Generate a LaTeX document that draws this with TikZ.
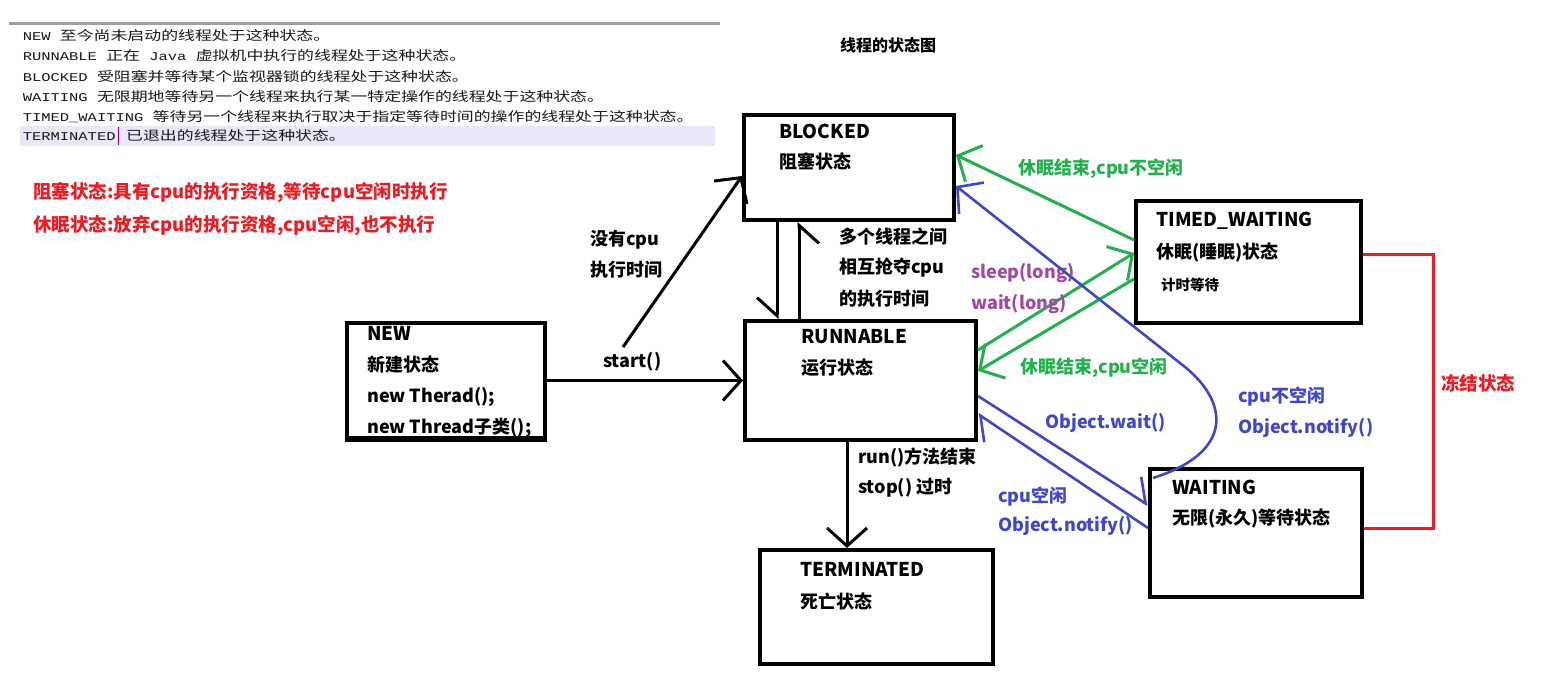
\documentclass[tikz,border=0pt]{standalone}
\usepackage{fontspec}
\setmainfont{Noto Sans CJK SC}
\newfontfamily\mono{Liberation Mono}
\newfontfamily\cjkl{Noto Sans CJK SC}
\usetikzlibrary{arrows.meta}
\definecolor{pgreen}{RGB}{34,177,76}
\definecolor{pblue}{RGB}{63,72,204}
\definecolor{pred}{RGB}{237,28,36}
\definecolor{ppurple}{RGB}{163,73,164}
\definecolor{hl}{RGB}{232,232,250}
\definecolor{txt}{RGB}{25,25,25}
\begin{document}
\begin{tikzpicture}[x=1pt,y=1pt,
  box/.style={draw=black, line width=4pt, anchor=north west, inner sep=0pt},
  lbl/.style={anchor=west, inner sep=0pt, font=\fontsize{18}{20}\selectfont\bfseries},
  redl/.style={anchor=west, inner sep=0pt, text=pred, font=\fontsize{18.5}{20}\selectfont\bfseries},
  ttl/.style={anchor=west, inner sep=0pt, font=\fontsize{19}{21}\selectfont\bfseries},
  small/.style={anchor=west, inner sep=0pt, font=\fontsize{14.5}{16}\selectfont\bfseries},
  code/.style={anchor=west, inner sep=0pt, text=txt, xscale=1.3, font=\mono\fontsize{11.9}{12}\selectfont},
  blk/.style={line width=3pt, draw=black},
  grn/.style={line width=3pt, draw=pgreen},
  blu/.style={line width=2.6pt, draw=pblue},
  tipfull/.style={-{Straight Barb[length=18pt,width=40pt]}},
  tipl/.style={-{Straight Barb[length=18pt,width=40pt,left]}},
  tipr/.style={-{Straight Barb[length=18pt,width=40pt,right]}}
]
\fill[white] (0,0) rectangle (1546,-686);
\useasboundingbox (0,0) rectangle (1546,-686);

% top text panel
\draw[gray!75, line width=3pt] (9,-23) -- (720,-23);
\fill[hl] (20,-126) rectangle (715,-146);
\node[code] (l1) at (22.5,-36) {NEW {\cjkl\fontsize{13}{14}\selectfont 至今尚未启动的线程处于这种状态。}};
\node[code] (l2) at (22.5,-56) {RUNNABLE {\cjkl\fontsize{13}{14}\selectfont 正在} Java {\cjkl\fontsize{13}{14}\selectfont 虚拟机中执行的线程处于这种状态。}};
\node[code] (l3) at (22.5,-77) {BLOCKED {\cjkl\fontsize{13}{14}\selectfont 受阻塞并等待某个监视器锁的线程处于这种状态。}};
\node[code] (l4) at (22.5,-97) {WAITING {\cjkl\fontsize{13}{14}\selectfont 无限期地等待另一个线程来执行某一特定操作的线程处于这种状态。}};
\node[code] (l5) at (22.5,-117) {TIMED\_WAITING {\cjkl\fontsize{13}{14}\selectfont 等待另一个线程来执行取决于指定等待时间的操作的线程处于这种状态。}};
\node[code] (l6) at (22.5,-136) {TERMINATED {\cjkl\fontsize{13}{14}\selectfont\hspace{1pt}已退出的线程处于这种状态。}};
\draw[violet, line width=1pt] (118,-127) -- (118,-145);

% red notes
\node[redl] (n1) at (33,-193) {阻塞状态:具有cpu的执行资格,等待cpu空闲时执行};
\node[redl] (n2) at (33,-226) {休眠状态:放弃cpu的执行资格,cpu空闲,也不执行};

% title
\node[anchor=west, inner sep=0pt, font=\fontsize{16}{18}\selectfont\bfseries] (title) at (840,-45) {线程的状态图};

% boxes
\node[box, minimum width=210pt, minimum height=105pt] (blocked) at (742,-113) {};
\node[box, minimum width=231pt, minimum height=119pt] (runnable) at (743,-319) {};
\node[box, minimum width=198pt, minimum height=115pt] (new) at (345,-321) {};
\node[box, minimum width=233pt, minimum height=114pt] (term) at (758,-548) {};
\node[box, minimum width=225pt, minimum height=122pt] (twait) at (1134,-199) {};
\node[box, minimum width=212pt, minimum height=128pt] (wait) at (1148,-467) {};

% box texts
\node[ttl] (bt1) at (779,-131) {BLOCKED};
\node[lbl] (bt2) at (779,-162) {阻塞状态};
\node[ttl] (rt1) at (801,-337) {RUNNABLE};
\node[lbl] (rt2) at (801,-368) {运行状态};
\node[ttl] (nt1) at (367,-333) {NEW};
\node[lbl] (nt2) at (367,-365) {新建状态};
\node[lbl] (nt3) at (367,-397) {new Therad();};
\node[lbl] (nt4) at (367,-428) {new Thread子类();};
\node[ttl] (tt1) at (800,-569) {TERMINATED};
\node[lbl] (tt2) at (800,-602) {死亡状态};
\node[ttl] (wt1) at (1156,-221) {TIMED\_WAITING};
\node[lbl] (wt2) at (1156,-253) {休眠(睡眠)状态};
\node[small] (wt3) at (1161,-285) {计时等待};
\node[ttl] (at1) at (1172,-487) {WAITING};
\node[lbl] (at2) at (1172,-519) {无限(永久)等待状态};

% redraw NEW bottom border over its last text line
\draw[black, line width=4pt] (new.south west) -- (new.south east);

% black connectors
\coordinate (c1) at (623,-347);
\draw[blk, tipfull] (new.east) -- (new.east -| runnable.west);
\node[lbl] (s1) at (603,-362) {start()};
\draw[blk, tipfull] (c1) -- (blocked.west |- 0,-176);
\node[lbl] (s2) at (590,-240) {没有cpu};
\node[lbl] (s3) at (590,-270) {执行时间};
\draw[blk, tipr] (blocked.south -| 777,0) -- (runnable.north -| 777,0);
\draw[blk, tipr] (runnable.north -| 799,0) -- (blocked.south -| 799,0);
\node[lbl] (s4) at (839,-237) {多个线程之间};
\node[lbl] (s5) at (839,-268) {相互抢夺cpu};
\node[lbl] (s6) at (839,-299) {的执行时间};
\draw[blk, tipfull] (runnable.south -| 847,0) -- (term.north -| 847,0);
\node[lbl] (s7) at (858,-457) {run()方法结束};
\node[lbl] (s8) at (858,-488) {stop() 过时};

% green connectors
\draw[grn, tipfull] (twait.west |- 0,-240) -- (blocked.east |- 0,-155);
\node[lbl, text=pgreen] (g1) at (1018,-169) {休眠结束,cpu不空闲};
\draw[grn, tipfull] (runnable.east |- 0,-350) -- (twait.west |- 0,-253);
\node[lbl, text=ppurple] (p1) at (971,-273) {sleep(long)};
\node[lbl, text=ppurple] (p2) at (971,-304) {wait(long)};
\draw[grn, tipfull] (twait.west |- 0,-279) -- (runnable.east |- 0,-371);
\node[lbl, text=pgreen] (g2) at (1020,-368) {休眠结束,cpu空闲};

% blue connectors
\coordinate (bs) at (1153,-478);
\draw[blu, tipfull] (bs) .. controls (1235,-452) and (1228,-402) .. (1185,-367) -- (blocked.east |- 0,-186);
\node[lbl, text=pblue] (b1) at (1238,-397) {cpu不空闲};
\node[lbl, text=pblue] (b2) at (1238,-428) {Object.notify()};
\draw[blu, tipl] (runnable.east |- 0,-396) -- (wait.west |- 0,-505);
\node[lbl, text=pblue] (b3) at (1045,-423) {Object.wait()};
\draw[blu, tipl] (wait.west |- 0,-528) -- (runnable.east |- 0,-414);
\node[lbl, text=pblue] (b4) at (998,-497) {cpu空闲};
\node[lbl, text=pblue] (b5) at (998,-526) {Object.notify()};

% red bracket
\coordinate (r1) at (1433,-254);
\coordinate (r2) at (1433,-528);
\draw[pred, line width=3pt] (twait.east |- r1) -- (r1) -- (r2) -- (wait.east |- r2);
\node[redl] (rl) at (1441,-383) {冻结状态};
\end{tikzpicture}
\end{document}
